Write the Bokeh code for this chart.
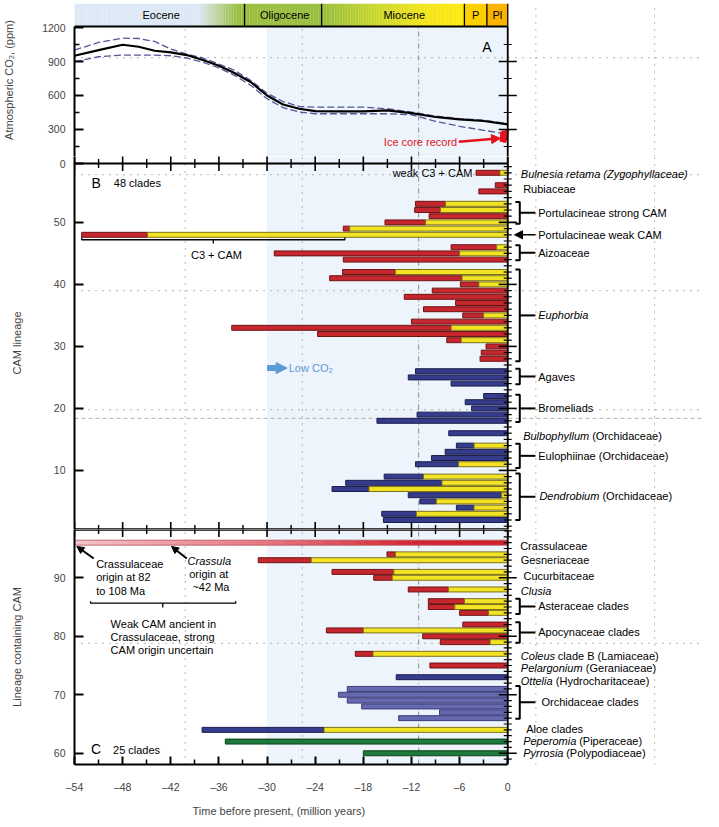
import numpy as np
from bokeh.plotting import figure
from bokeh.layouts import column
from bokeh.models import Range1d, FixedTicker, Arrow, NormalHead, Title
from bokeh.core.properties import value
from bokeh.embed import file_html
from bokeh.resources import INLINE

FONT = "Liberation Sans"

# ---------------- data ----------------
epoch_names = ["Eocene", "Oligocene", "Miocene", "P", "Pl"]
epoch_edges = [-54.0, -32.8, -23.2, -5.4, -2.6, 0.0]
epoch_label_x = [-43.2, -27.8, -12.9, -4.0, -1.3]

co2_age = [-54, -51, -48, -46, -44, -42, -40, -38, -36, -34, -32, -30, -28, -26, -24, -21, -18, -15, -12, -9, -6, -3, 0]
co2_mean = [951, 1001, 1048, 1030, 995, 980, 957, 913, 863, 796, 717, 600, 521, 483, 462, 460, 460, 468, 445, 410, 389, 375, 345]
co2_upper = [1001, 1068, 1106, 1103, 1077, 1010, 966, 931, 878, 820, 732, 620, 547, 503, 498, 498, 498, 483, 454, 418, 396, 383, 351]
co2_lower = [898, 942, 957, 957, 957, 951, 931, 893, 843, 776, 688, 571, 492, 454, 439, 439, 439, 439, 430, 372, 328, 293, 258]
ice_age = [-0.8, -0.7, -0.6, -0.5, -0.4, -0.3, -0.2, -0.1, 0.0]
ice_co2 = [190, 280, 200, 290, 185, 275, 200, 300, 280]

# Panel B: 48 clades (row, origin age, start of weak/C3+CAM phase, colour group)
b_row = [58, 56, 55, 53, 52, 51, 50, 49, 48, 46, 45, 44, 42, 41, 40, 39, 38, 37, 36, 35, 34, 33, 32, 31, 30, 29, 28,
         26, 25, 24, 22, 21, 20, 19, 18, 16, 14, 13, 12, 11, 9, 8, 7, 6, 5, 4, 3, 2]
b_origin = [-3.95, -1.55, -3.6, -11.5, -11.6, -9.8, -15.3, -20.5, -53.1, -7.06, -29.1, -20.5, -20.6, -22.2, -5.9,
            -9.4, -12.9, -6.5, -10.5, -5.6, -12.0, -34.4, -23.7, -7.6, -2.7, -3.3, -3.45,
            -11.5, -12.4, -7.06, -3.0, -5.3, -4.5, -11.3, -16.3, -7.35, -6.4, -7.8, -9.5, -11.5, -15.4, -20.2,
            -21.9, -12.4, -10.95, -6.4, -15.7, -15.5]
b_weak = [-0.97, None, None, -7.76, -8.4, None, -10.25, -19.7, -44.9, -1.39, -6.0, None, -14.0, -5.7, -3.6,
          None, None, None, None, -3.0, None, -7.06, None, -5.8, None, None, None,
          None, None, None, None, None, None, None, None, None, -4.2, None, None, -6.15, -10.5, -8.2,
          -17.3, -0.77, -8.9, -4.2, -11.4, None]
b_kind = ["red"] * 27 + ["blue"] * 21

# Panel C: 25 clades
c_row = [94, 93, 91, 90, 88, 86, 85, 84, 82, 81, 80, 79, 77, 75, 73, 71, 70, 69, 68, 67, 66, 64, 62, 60]
c_origin = [-15.05, -31.1, -21.9, -16.7, -12.4, -9.9, -9.9, -6.0, -5.6, -22.6, -10.6, -8.4, -19.0, -9.7, -13.9,
            -20.0, -21.1, -20.0, -18.2, -8.5, -13.6, -38.1, -35.2, -18.0]
c_weak = [-14.0, -24.5, -14.2, -14.4, -7.4, -5.4, -6.6, -2.4, None, -18.0, None, -2.2, -16.8, None, None,
          None, None, None, None, None, None, -22.9, None, None]
c_kind = ["red"] * 14 + ["blue"] + ["orchid"] * 6 + ["blue", "green", "green"]
crass_row = 96
crass_origin = -54.0

x_ticks = list(range(-54, 1, 6))
x_minor = list(range(-51, 0, 6))
co2_ticks = [300, 600, 900, 1200]
co2_minor = [150, 450, 750, 1050]
b_ticks = [10, 20, 30, 40, 50]
c_ticks = [60, 70, 80, 90]

# ---------------- style ----------------
W = 703
LEFT = 70
xr = Range1d(-54.0, 24.4)
FILL = {"red": "#c6262e", "blue": "#363c8c", "orchid": "#6569ae", "green": "#1d7a3a"}
LINE = {"red": "#6e1414", "blue": "#1a1d4d", "orchid": "#3a3d78", "green": "#0e3f1d"}
WEAK_FILL, WEAK_LINE = "#f2e424", "#7d7218"
SHADE = "#eef4fb"
DOT = "#8c8c8c"
FS = "11px"


def base_fig(height, y0, y1, left_axis=True, bottom_axis=False, mbb=0, mbt=0):
    p = figure(width=W, height=height, x_range=xr, y_range=Range1d(y0, y1), title=None,
               output_backend="svg", toolbar_location=None,
               x_axis_location="below" if bottom_axis else None,
               y_axis_location="left" if left_axis else None,
               min_border_left=LEFT, min_border_right=0, min_border_top=mbt, min_border_bottom=mbb)
    p.outline_line_color = None
    p.xgrid.grid_line_color = None
    p.ygrid.grid_line_color = None
    p.background_fill_color = "white"
    p.border_fill_color = "white"
    return p


def style_yaxis(p, ticks, minor, label, standoff, overrides=None):
    ax = p.yaxis[0]
    ax.ticker = FixedTicker(ticks=ticks, minor_ticks=minor)
    ax.axis_line_width = 2
    ax.major_tick_line_width = 2
    ax.major_tick_in = 9
    ax.major_tick_out = 0
    ax.minor_tick_in = 5
    ax.minor_tick_out = 0
    ax.minor_tick_line_width = 1.5
    ax.major_label_standoff = 9
    ax.major_label_text_font = FONT
    ax.major_label_text_font_size = "10.5px"
    if overrides:
        ax.major_label_overrides = overrides
    ax.axis_label = label
    ax.axis_label_text_font = FONT
    ax.axis_label_text_font_size = FS
    ax.axis_label_text_font_style = "normal"
    ax.axis_label_standoff = standoff
    return ax


def dotted(p, hy=(), dashed=(), y0=None, y1=None):
    for x in [-40.2, -25.6, 3.5, 18.3]:
        p.segment(x0=x, x1=x, y0=y0, y1=y1, line_color=DOT, line_width=1.2, line_dash="1 6")
    p.segment(x0=-11.1, x1=-11.1, y0=y0, y1=y1, line_color=DOT, line_width=1, line_dash="5 3 1 3")
    for y in hy:
        p.segment(x0=-54, x1=24.4, y0=y, y1=y, line_color=DOT, line_width=1.2, line_dash="1 6")
    for y in dashed:
        p.segment(x0=-54, x1=24.4, y0=y, y1=y, line_color="#b0b0b0", line_width=1, line_dash="4 3")


def edge_ticks(p, y):
    p.scatter(x=x_ticks, y=[y] * len(x_ticks), marker="dash", size=15, angle=np.pi / 2,
              line_color="black", line_width=1.6)
    p.scatter(x=x_minor, y=[y] * len(x_minor), marker="dash", size=9, angle=np.pi / 2,
              line_color="black", line_width=1.4)


def right_ticks(p, major, minor):
    p.scatter(x=0, y=major, marker="dash", size=18, line_color="black", line_width=1.6)
    p.scatter(x=0, y=minor, marker="dash", size=8, line_color="black", line_width=1.2)


def draw_bars(p, rows, origin, weak, kind, h):
    rows = np.array(rows, float)
    origin = np.array(origin, float)
    weak = np.array([np.nan if w is None else w for w in weak], float)
    main_right = np.where(np.isnan(weak), 0.0, weak)
    p.hbar(y=rows, left=origin, right=main_right, height=h,
           fill_color=[FILL[k] for k in kind], line_color=[LINE[k] for k in kind], line_width=1)
    m = ~np.isnan(weak)
    p.hbar(y=rows[m], left=weak[m], right=0.0, height=h,
           fill_color=WEAK_FILL, line_color=WEAK_LINE, line_width=1)


def brackets(p, tops, bots, xv=1.5, xh=0.95, xc=3.45):
    xs, ys = [], []
    for t, b in zip(tops, bots):
        xs.append([xh, xv, xv, xh]); ys.append([t, t, b, b])
        m = (t + b) / 2
        xs.append([xv, xc]); ys.append([m, m])
    p.multi_line(xs, ys, line_color="black", line_width=2)


def txt(p, x, y, t, size=FS, style="normal", align="left", color="black", x_offset=0):
    if isinstance(t, str):
        x, y, t = [x], [y], [t]
    p.text(x=list(x), y=list(y), text=list(t), text_font=value(FONT), text_font_size=size,
           text_font_style=style, text_align=align, text_baseline="middle", text_color=color,
           x_offset=x_offset)


def lerp_color(x, stops):
    xs = [s[0] for s in stops]
    r = np.interp(x, xs, [s[1][0] for s in stops])
    g = np.interp(x, xs, [s[1][1] for s in stops])
    b = np.interp(x, xs, [s[1][2] for s in stops])
    return "#%02x%02x%02x" % (int(r), int(g), int(b))


# ---------------- panel A (with period bar on top) ----------------
A0, A1, AP = 61.6, 1209.0, 1412.0     # frame bottom, plot top, period-bar top (ppm units)
pA = base_fig(156, A0, AP, mbt=3)
axA = style_yaxis(pA, co2_ticks, co2_minor, "Atmospheric CO\u2082, (ppm)", 24)
axA.bounds = (A0, A1)
pA.quad(left=-30, right=0, bottom=A0, top=A1, fill_color=SHADE, line_color=None)
dotted(pA, hy=[934], y0=A0, y1=AP)

stops = [(-54, (220, 232, 245)), (-38.5, (220, 232, 245)), (-33.6, (152, 190, 60)), (-23.2, (150, 189, 58)),
         (-16.5, (200, 215, 40)), (-10.8, (242, 228, 22)), (-5.4, (255, 234, 5))]
step = 0.2
lefts = np.arange(epoch_edges[0], epoch_edges[3], step)
pA.quad(left=lefts, right=lefts + step + 0.02, bottom=A1, top=AP,
        fill_color=[lerp_color(x + step / 2, stops) for x in lefts], line_color=None)
pA.quad(left=epoch_edges[3:5], right=epoch_edges[4:6], bottom=A1, top=AP,
        fill_color=["#ffd000", "#f9b300"], line_color=None)
pA.segment(x0=epoch_edges[1:], x1=epoch_edges[1:], y0=A1, y1=AP, line_color="black", line_width=1.3)
txt(pA, epoch_label_x, [(A1 + AP) / 2] * 5, epoch_names, align="center")

pA.line(co2_age, co2_upper, line_color="#55559a", line_width=1.3, line_dash="7 3")
pA.line(co2_age, co2_lower, line_color="#55559a", line_width=1.3, line_dash="7 3")
pA.line(co2_age, co2_mean, line_color="black", line_width=2.2)
pA.line(ice_age, ice_co2, line_color="#e3131b", line_width=3.5)
pA.add_layout(Arrow(end=NormalHead(size=9, fill_color="#e3131b", line_color="#e3131b"),
                    x_start=-6.1, y_start=192, x_end=-0.9, y_end=222,
                    line_color="#e3131b", line_width=2.5))
txt(pA, -6.3, 190, "Ice core record", color="#e3131b", align="right")
txt(pA, -2.6, 1024, "A", size="14px", align="center")
pA.segment(x0=-54, x1=0, y0=A1, y1=A1, line_color="black", line_width=2)
pA.segment(x0=0, x1=0, y0=A0, y1=A1, line_color="black", line_width=1.8)
right_ticks(pA, [300, 600, 900], co2_minor)

# ---------------- panel B ----------------
BT = 59.5            # boundary between panels A (CO2 = 0) and B
B0, B1 = 0.47, 60.63
pB = base_fig(373, B0, B1)
style_yaxis(pB, b_ticks + [BT], [], "CAM lineage", 28, overrides={BT: "0"})
pB.quad(left=-30, right=0, bottom=B0, top=B1, fill_color=SHADE, line_color=None)
dotted(pB, hy=[57.7, 39.0, 19.8], dashed=[18.4], y0=B0, y1=B1)
draw_bars(pB, b_row, b_origin, b_weak, b_kind, 0.8)
pB.segment(x0=0, x1=0, y0=B0, y1=B1, line_color="black", line_width=1.8)
pB.segment(x0=-54, x1=0, y0=BT, y1=BT, line_color="black", line_width=2)
pB.segment(x0=-54, x1=0, y0=B0, y1=B0, line_color="black", line_width=2.5)
edge_ticks(pB, BT)
edge_ticks(pB, B0)
right_ticks(pB, b_ticks, [v for v in range(1, 60) if v % 10])
brackets(pB, [53.3, 46.3, 42.4, 26.4, 22.2, 14.3, 9.5], [49.8, 43.9, 27.6, 23.9, 17.8, 10.4, 2.0])
pB.add_layout(Arrow(end=NormalHead(size=8, fill_color="black", line_color="black"),
                    x_start=3.45, y_start=48, x_end=0.85, y_end=48, line_color="black", line_width=1.6))
# C3 + CAM bracket under the long Portulacineae bar
pB.multi_line([[-53.1, -53.1, -20.3, -20.3], [-36.7, -36.7]], [[47.55, 47.2, 47.2, 47.55], [47.2, 46.6]],
              line_color="black", line_width=1.3)
txt(pB, -36.3, 44.7, "C3 + CAM", align="center")
txt(pB, -4.4, 58, "weak C3 + CAM", align="right")
txt(pB, -51.3, 56.3, "B", size="14px", align="center")
txt(pB, -49.1, 56.3, "48 clades")
pB.add_layout(Arrow(end=NormalHead(size=11, fill_color="#5b9bd5", line_color="#5b9bd5"),
                    x_start=-30.0, y_start=26.5, x_end=-27.5, y_end=26.5, line_color="#5b9bd5", line_width=6))
txt(pB, -27.3, 26.5, "Low CO\u2082", color="#5b9bd5")

b_lab = ["Rubiaceae", "Portulacineae strong CAM", "Portulacineae weak CAM", "Aizoaceae", "Agaves",
         "Bromeliads", "Eulophiinae (Orchidaceae)"]
b_lab_x = [1.92, 3.8, 3.8, 3.8, 3.8, 3.8, 3.8]
b_lab_y = [55.4, 51.55, 48.0, 45.05, 25.1, 20.0, 12.35]
txt(pB, b_lab_x, b_lab_y, b_lab)
b_ital = ["Bulnesia retama (Zygophyllaceae)", "Euphorbia", "Bulbophyllum", "Dendrobium"]
b_ital_x = [1.63, 3.8, 1.92, 3.95]
b_ital_y = [57.8, 35.0, 15.5, 5.8]
txt(pB, b_ital_x, b_ital_y, b_ital, style="italic")
txt(pB, 1.92, 15.5, "(Orchidaceae)", x_offset=69)
txt(pB, 3.95, 5.8, "(Orchidaceae)", x_offset=63)

# ---------------- panel C ----------------
C0, C1 = 58.08, 98.25
pC = base_fig(295, C0, C1, bottom_axis=True, mbb=58)
style_yaxis(pC, c_ticks, [], "Lineage containing CAM", 28)
ax = pC.xaxis[0]
ax.ticker = FixedTicker(ticks=x_ticks, minor_ticks=x_minor)
ax.bounds = (-54, 0)
ax.axis_line_width = 2
ax.major_tick_line_width = 2
ax.major_tick_in = 8
ax.major_tick_out = 0
ax.minor_tick_in = 5
ax.minor_tick_out = 0
ax.minor_tick_line_width = 1.5
ax.major_label_standoff = 16
ax.major_label_text_font = FONT
ax.major_label_text_font_size = "10.5px"
ax.major_label_overrides = {t: ("\u2013%d" % -t if t < 0 else "0") for t in x_ticks}
pC.add_layout(Title(text="Time before present, (million years)", align="left", offset=118,
                    text_font=FONT, text_font_size=FS, text_font_style="normal", standoff=15), "below")

pC.quad(left=-30, right=0, bottom=C0, top=C1, fill_color=SHADE, line_color=None)
dotted(pC, hy=[78.8], y0=C0, y1=C1)
# Crassulaceae bar (origin beyond the axis), shaded pink to red
cl = np.arange(crass_origin, 0, 1.0)
cstops = [(-54, (246, 196, 203)), (-30, (232, 118, 128)), (-12, (212, 38, 50)), (0, (208, 32, 44))]
pC.hbar(y=crass_row, left=cl, right=cl + 1.05, height=0.85,
        fill_color=[lerp_color(x + 0.5, cstops) for x in cl], line_color=None)
pC.segment(x0=[crass_origin, crass_origin], x1=[0, 0], y0=[crass_row + 0.425, crass_row - 0.425],
           y1=[crass_row + 0.425, crass_row - 0.425], line_color="#b0505a", line_width=0.8)
draw_bars(pC, c_row, c_origin, c_weak, c_kind, 0.85)
pC.segment(x0=0, x1=0, y0=C0, y1=C1, line_color="black", line_width=1.8)
pC.segment(x0=-54, x1=0, y0=C1, y1=C1, line_color="black", line_width=2.5)
edge_ticks(pC, C1)
right_ticks(pC, c_ticks, [v for v in range(59, 99) if v % 10])
brackets(pC, [86.4, 82.4, 71.5], [83.8, 78.9, 65.9])

c_lab = ["Crassulaceae", "Gesneriaceae", "Cucurbitaceae", "Asteraceae clades", "Apocynaceae clades",
         "Orchidaceae clades", "Aloe clades"]
c_lab_x = [1.55, 1.63, 1.96, 3.8, 3.8, 4.2, 2.3]
c_lab_y = [95.4, 93.0, 90.3, 85.1, 80.65, 68.7, 64.1]
txt(pC, c_lab_x, c_lab_y, c_lab)
c_ital = ["Clusia", "Coleus", "Pelargonium", "Ottelia", "Peperomia", "Pyrrosia"]
c_ital_x = [1.63, 1.63, 1.63, 1.63, 1.92, 1.92]
c_ital_y = [87.8, 76.6, 74.5, 72.4, 62.1, 60.1]
txt(pC, c_ital_x, c_ital_y, c_ital, style="italic")
c_suffix = ["clade B (Lamiaceae)", "(Geraniaceae)", "(Hydrocharitaceae)", "(Piperaceae)", "(Polypodiaceae)"]
c_suffix_off = [37, 65, 35, 56, 43]
for t, off, x, y in zip(c_suffix, c_suffix_off, c_ital_x[1:], c_ital_y[1:]):
    txt(pC, x, y, t, x_offset=off)

txt(pC, -51.3, 60.8, "C", size="14px", align="center")
txt(pC, -49.2, 60.5, "25 clades")
for xs, xe in [(-51.6, -53.7), (-40.0, -41.9)]:
    pC.add_layout(Arrow(end=NormalHead(size=7, fill_color="black", line_color="black"),
                        x_start=xs, y_start=93.3, x_end=xe, y_end=95.35, line_color="black", line_width=2))
txt(pC, [-51.3] * 3, [92.3, 90.05, 87.8], ["Crassulaceae", "origin at 82", "to 108 Ma"])
txt(pC, -39.9, 92.8, "Crassula", style="italic")
txt(pC, [-39.7, -39.3], [90.6, 88.4], ["origin at", "~42 Ma"])
pC.multi_line([[-52.0, -52.0, -33.9, -33.9], [-43.0, -43.0]], [[86.0, 85.66, 85.66, 86.0], [85.66, 84.9]],
              line_color="black", line_width=1.3)
txt(pC, [-49.5] * 3, [82.1, 79.9, 77.6], ["Weak CAM ancient in", "Crassulaceae, strong", "CAM origin uncertain"])

layout = column(pA, pB, pC, spacing=0)
open("out.html", "w").write(file_html(layout, INLINE))
